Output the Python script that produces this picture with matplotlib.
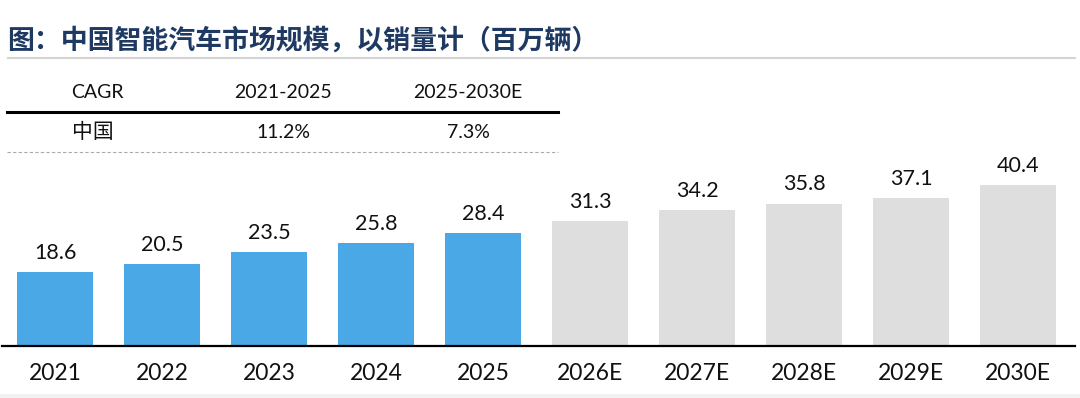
import matplotlib.pyplot as plt
from matplotlib.patches import Rectangle

# ---------------------------------------------------
# DATA
# ---------------------------------------------------
years = ["2021", "2022", "2023", "2024", "2025",
         "2026E", "2027E", "2028E", "2029E", "2030E"]
sales_mn = [18.6, 20.5, 23.5, 25.8, 28.4, 31.3, 34.2, 35.8, 37.1, 40.4]
is_forecast = [False] * 5 + [True] * 5

title = "图：中国智能汽车市场规模，以销量计（百万辆）"
cagr_header = ["CAGR", "2021-2025", "2025-2030E"]
cagr_row = ["中国", "11.2%", "7.3%"]

BLUE = "#4BA8E6"
GREY = "#DEDEDE"
NAVY = "#1E3A62"

W, H = 1080, 398
plt.rcParams["font.family"] = ["Lato", "Noto Sans CJK SC", "DejaVu Sans"]
CJK = ["Noto Sans CJK SC", "DejaVu Sans"]


def px_x(x):
    return x / W


def px_y(y):
    # y measured from the top of the image
    return 1 - y / H


def main():
    fig = plt.figure(figsize=(W / 100, H / 100), dpi=100)
    fig.patch.set_facecolor("white")

    # thin grey band at the very bottom
    fig.patches.append(Rectangle((0, 0), 1, 4 / H, transform=fig.transFigure,
                                 facecolor="#F1F1F1", edgecolor="none", zorder=0))

    # title + rule
    fig.text(px_x(7), px_y(41), title, fontsize=19.4, fontweight="bold", color=NAVY,
             family=CJK, ha="left", va="center")
    fig.add_artist(plt.Line2D([px_x(8), px_x(1075)], [px_y(58), px_y(58)],
                              transform=fig.transFigure, color="#D4D4D4", lw=1.5))

    # CAGR table
    col_x = [97, 283, 468]
    for cx, txt in zip(col_x, cagr_header):
        fig.text(px_x(cx), px_y(93), txt, fontsize=14, color="#111111",
                 ha="center", va="center")
    fig.add_artist(plt.Line2D([px_x(7), px_x(558)], [px_y(112), px_y(112)],
                              transform=fig.transFigure, color="black", lw=2.2))
    for cx, txt in zip(col_x, cagr_row):
        if txt == "中国":
            fig.text(px_x(cx - 4), px_y(132), txt, fontsize=15, color="#111111",
                     family=CJK, ha="center", va="center")
        else:
            fig.text(px_x(cx), px_y(132), txt, fontsize=14, color="#111111",
                     ha="center", va="center")
    fig.add_artist(plt.Line2D([px_x(7), px_x(558)], [px_y(152), px_y(152)],
                              transform=fig.transFigure, color="#AAAAAA", lw=0.8,
                              linestyle=(0, (3, 2))))

    # bar chart
    ax_h = 186
    ax = fig.add_axes([px_x(2), px_y(346), 1073 / W, ax_h / H])
    ax.set_facecolor("none")
    x = list(range(len(years)))
    colors = [GREY if f else BLUE for f in is_forecast]
    ax.bar(x, sales_mn, width=0.71, color=colors, zorder=2)

    for xi, v in zip(x, sales_mn):
        ax.annotate(f"{v:.1f}", (xi, v), xytext=(0, 9.5), textcoords="offset points",
                    ha="center", va="baseline", fontsize=15.5, color="#111111")

    ax.set_xlim(-53 / 107, 9 + 57 / 107)
    ax.set_ylim(0, ax_h / 3.98)
    ax.set_xticks(x)
    ax.set_xticklabels(years, fontsize=16.5, color="#111111")
    ax.tick_params(axis="x", length=0, pad=12)
    ax.set_yticks([])
    for side in ["top", "right", "left"]:
        ax.spines[side].set_visible(False)
    ax.spines["bottom"].set_linewidth(1.6)
    ax.spines["bottom"].set_color("black")

    fig.savefig("out.png", dpi=100)


if __name__ == "__main__":
    main()
